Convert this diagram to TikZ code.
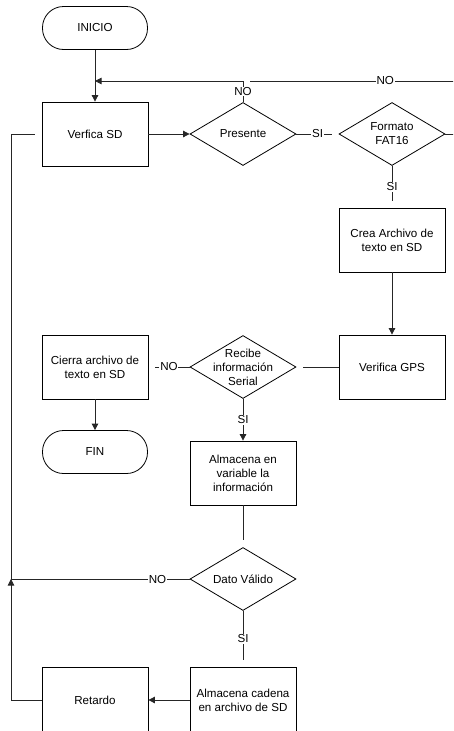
\documentclass[tikz,border=0pt]{standalone}
\usepackage{fontspec}
\setmainfont{Liberation Sans}
\usetikzlibrary{arrows.meta,shapes.geometric,positioning}

\begin{document}
\begin{tikzpicture}[x=1pt,y=-1pt]
\tikzset{
  flownode/.style={draw=black,line width=0.8pt,font=\fontsize{11.6}{14}\selectfont,align=center},
  terminal/.style={flownode,rectangle,rounded corners=21pt,minimum width=105pt,minimum height=43pt},
  process/.style={flownode,rectangle,minimum width=106pt,minimum height=64pt,inner sep=1pt},
  decision/.style={flownode,diamond,minimum width=106pt,minimum height=63pt,inner xsep=-18pt,inner ysep=-8pt},
  flowline/.style={draw=black!85,line width=0.8pt},
  flowarrow/.style={flowline,-{Triangle[length=6.5pt,width=6.5pt]}},
  openend/.style={flowline,shorten >=7pt},
  lbl/.style={fill=white,inner sep=0.8pt,font=\fontsize{11.6}{14}\selectfont}
}
\useasboundingbox (0,0) rectangle (453,731);
\clip (0,0) rectangle (453,731);
\node[terminal] (n_ini) at (95,28) {INICIO};
\node[process] (n_verif) at (95,134) {Verfica SD};
\node[decision] (n_pres) at (243,134) {Presente};
\node[decision] (n_fat) at (392,134) {Formato\\FAT16};
\node[process] (n_crea) at (392,240) {Crea Archivo de\\texto en SD};
\node[process] (n_gps) at (392,367) {Verifica GPS};
\node[decision] (n_recibe) at (243,367) {Recibe\\información\\Serial};
\node[process] (n_cierra) at (95,367) {Cierra archivo de\\texto en SD};
\node[terminal] (n_fin) at (95,452) {FIN};
\node[process] (n_almvar) at (243,473) {Almacena en\\variable la\\información};
\node[decision] (n_dato) at (243,579) {Dato Válido};
\node[process,minimum height=66pt] (n_ret) at (95,700) {Retardo};
\node[process,minimum height=66pt] (n_almcad) at (243,700) {Almacena cadena\\en archivo de SD};
\coordinate (c_topl) at (95,81);
\coordinate (c_topm) at (243,81);
\coordinate (c_topr) at (480,81);
\coordinate (c_join) at (11,579);
\draw[flowarrow] (n_ini) -- (n_verif);
\draw[flowarrow] (n_pres.north) -- node[lbl]{NO} (c_topm) -- (c_topl);
\draw[openend] (n_fat.east) -- (n_fat.east -| c_topr) -- (c_topr) -- node[lbl,pos=0.4]{NO} (c_topm);
\draw[flowarrow] (n_verif) -- (n_pres);
\draw[openend] (n_pres) -- node[lbl]{SI} (n_fat);
\draw[openend] (n_fat) -- node[lbl]{SI} (n_crea);
\draw[flowarrow] (n_crea) -- (n_gps);
\draw[openend] (n_gps) -- (n_recibe);
\draw[openend] (n_recibe) -- node[lbl]{NO} (n_cierra);
\draw[flowarrow] (n_cierra) -- (n_fin);
\draw[flowarrow] (n_recibe) -- node[lbl]{SI} (n_almvar);
\draw[openend] (n_almvar) -- (n_dato);
\draw[openend] (n_dato) -- node[lbl]{SI} (n_almcad);
\draw[flowarrow] (n_almcad) -- (n_ret);
\draw[openend] (n_dato.west) -- node[lbl,pos=0.18]{NO} (c_join) -- (c_join |- n_verif.west) -- (n_verif.west);
\draw[flowarrow] (n_ret.west) -- (n_ret.west -| c_join) -- (c_join);
\end{tikzpicture}
\end{document}
